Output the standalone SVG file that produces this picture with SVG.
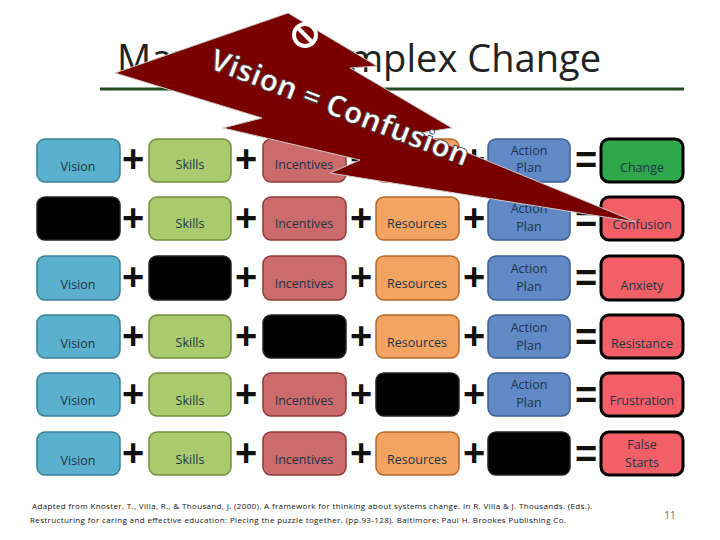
<svg xmlns="http://www.w3.org/2000/svg" width="720" height="540" viewBox="0 0 720 540">
<style>
.b{stroke-width:1.5;rx:8}
.v{fill:#5bb0cd;stroke:#3a7f99}
.s{fill:#a9cb6e;stroke:#6f8f3f}
.i{fill:#cc6b6b;stroke:#8f3b3b}
.r{fill:#f3a463;stroke:#b36a2b}
.a{fill:#6189c6;stroke:#3b5f93}
.k{fill:#000;stroke:#222}
.g{fill:#2fa84c;stroke:#000;stroke-width:3}
.f{fill:#f25f66;stroke:#000;stroke-width:3}
text{font-family:"Open Sans","Liberation Sans",sans-serif}
.t{font-size:12.5px;fill:#1d3445;text-anchor:middle}
.op{font-size:38px;font-weight:bold;fill:#111;text-anchor:middle;font-family:"Liberation Sans",sans-serif}
</style>
<rect width="720" height="540" fill="#fff"/>
<text x="117" y="72" font-size="38" fill="#222" textLength="484" font-family="Open Sans,Liberation Sans,sans-serif">Managing Complex Change</text>
<line x1="100" y1="89" x2="684" y2="89" stroke="#244a22" stroke-width="3"/>
<g id="ops">
<text class="op" x="133" y="172">+</text><text class="op" x="246" y="172">+</text><text class="op" x="361" y="172">+</text><text class="op" x="474" y="172">+</text><text class="op" x="586" y="173">=</text>
<text class="op" x="133" y="231">+</text><text class="op" x="246" y="231">+</text><text class="op" x="361" y="231">+</text><text class="op" x="474" y="231">+</text><text class="op" x="586" y="232">=</text>
<text class="op" x="133" y="290">+</text><text class="op" x="246" y="290">+</text><text class="op" x="361" y="290">+</text><text class="op" x="474" y="290">+</text><text class="op" x="586" y="291">=</text>
<text class="op" x="133" y="349">+</text><text class="op" x="246" y="349">+</text><text class="op" x="361" y="349">+</text><text class="op" x="474" y="349">+</text><text class="op" x="586" y="350">=</text>
<text class="op" x="133" y="407">+</text><text class="op" x="246" y="407">+</text><text class="op" x="361" y="407">+</text><text class="op" x="474" y="407">+</text><text class="op" x="586" y="408">=</text>
<text class="op" x="133" y="466">+</text><text class="op" x="246" y="466">+</text><text class="op" x="361" y="466">+</text><text class="op" x="474" y="466">+</text><text class="op" x="586" y="467">=</text>
</g>
<g id="row1">
<rect class="b v" x="37" y="139" width="83" height="43"/><text class="t" x="78" y="171">Vision</text>
<rect class="b s" x="149" y="139" width="82" height="43"/><text class="t" x="190" y="169">Skills</text>
<rect class="b i" x="263" y="139" width="83" height="43"/><text class="t" x="304" y="169">Incentives</text>
<rect class="b r" x="376" y="139" width="83" height="43"/><text class="t" x="417" y="169">Resources</text>
<rect class="b a" x="488" y="139" width="82" height="43"/><text class="t" x="529" y="155">Action</text><text class="t" x="529" y="172">Plan</text>
<rect class="b g" x="601" y="139" width="82" height="43"/><text class="t" x="642" y="172">Change</text>
</g>
<g id="row2">
<rect class="b k" x="37" y="197" width="83" height="43"/>
<rect class="b s" x="149" y="197" width="82" height="43"/><text class="t" x="190" y="228">Skills</text>
<rect class="b i" x="263" y="197" width="83" height="43"/><text class="t" x="304" y="228">Incentives</text>
<rect class="b r" x="376" y="197" width="83" height="43"/><text class="t" x="417" y="228">Resources</text>
<rect class="b a" x="488" y="197" width="82" height="43"/><text class="t" x="529" y="213">Action</text><text class="t" x="529" y="231">Plan</text>
<rect class="b f" x="601" y="197" width="82" height="43"/><text class="t" x="642" y="229">Confusion</text>
</g>
<g id="row3">
<rect class="b v" x="37" y="256" width="83" height="44"/><text class="t" x="78" y="289">Vision</text>
<rect class="b k" x="149" y="256" width="82" height="44"/>
<rect class="b i" x="263" y="256" width="83" height="44"/><text class="t" x="304" y="288">Incentives</text>
<rect class="b r" x="376" y="256" width="83" height="44"/><text class="t" x="417" y="288">Resources</text>
<rect class="b a" x="488" y="256" width="82" height="44"/><text class="t" x="529" y="273">Action</text><text class="t" x="529" y="291">Plan</text>
<rect class="b f" x="601" y="256" width="82" height="44"/><text class="t" x="642" y="290">Anxiety</text>
</g>
<g id="row4">
<rect class="b v" x="37" y="315" width="83" height="43"/><text class="t" x="78" y="348">Vision</text>
<rect class="b s" x="149" y="315" width="82" height="43"/><text class="t" x="190" y="347">Skills</text>
<rect class="b k" x="263" y="315" width="83" height="43"/>
<rect class="b r" x="376" y="315" width="83" height="43"/><text class="t" x="417" y="347">Resources</text>
<rect class="b a" x="488" y="315" width="82" height="43"/><text class="t" x="529" y="332">Action</text><text class="t" x="529" y="350">Plan</text>
<rect class="b f" x="601" y="315" width="82" height="43"/><text class="t" x="642" y="348">Resistance</text>
</g>
<g id="row5">
<rect class="b v" x="37" y="373" width="83" height="43"/><text class="t" x="78" y="405">Vision</text>
<rect class="b s" x="149" y="373" width="82" height="43"/><text class="t" x="190" y="405">Skills</text>
<rect class="b i" x="263" y="373" width="83" height="43"/><text class="t" x="304" y="405">Incentives</text>
<rect class="b k" x="376" y="373" width="83" height="43"/>
<rect class="b a" x="488" y="373" width="82" height="43"/><text class="t" x="529" y="389">Action</text><text class="t" x="529" y="407">Plan</text>
<rect class="b f" x="601" y="373" width="82" height="43"/><text class="t" x="642" y="405">Frustration</text>
</g>
<g id="row6">
<rect class="b v" x="37" y="432" width="83" height="43"/><text class="t" x="78" y="465">Vision</text>
<rect class="b s" x="149" y="432" width="82" height="43"/><text class="t" x="190" y="464">Skills</text>
<rect class="b i" x="263" y="432" width="83" height="43"/><text class="t" x="304" y="464">Incentives</text>
<rect class="b r" x="376" y="432" width="83" height="43"/><text class="t" x="417" y="464">Resources</text>
<rect class="b k" x="488" y="432" width="82" height="43"/>
<rect class="b f" x="601" y="432" width="82" height="43"/><text class="t" x="642" y="449">False</text><text class="t" x="642" y="467">Starts</text>
</g>
<g id="bolt">
<polygon points="115,73 288,13 377,66 350,68 452,128 420,133 636,222 330,173 360,160 223,128 262,118" fill="#7a0000" stroke="#c9c9c9" stroke-width="1"/>
<circle cx="305" cy="35" r="11" fill="none" stroke="#fff" stroke-width="4"/>
<line x1="298" y1="28" x2="312" y2="42" stroke="#fff" stroke-width="4"/>
<text x="0" y="0" transform="translate(208,68) rotate(21)" font-size="30" font-weight="bold" fill="#fff" stroke="#333" stroke-width="0.8" textLength="275" font-family="Open Sans,Liberation Sans,sans-serif">Vision = Confusion</text>
</g>
<text x="32" y="509" font-size="8" fill="#111" textLength="560">Adapted from Knoster, T., Villa, R., &amp; Thousand, J. (2000). A framework for thinking about systems change. In R. Villa &amp; J. Thousands. (Eds.).</text>
<text x="30" y="523" font-size="8" fill="#111" textLength="536">Restructuring for caring and effective education: Piecing the puzzle together. (pp.93-128). Baltimore: Paul H. Brookes Publishing Co.</text>
<text x="670" y="519" font-size="10" fill="#666" text-anchor="middle">11</text>
</svg>
